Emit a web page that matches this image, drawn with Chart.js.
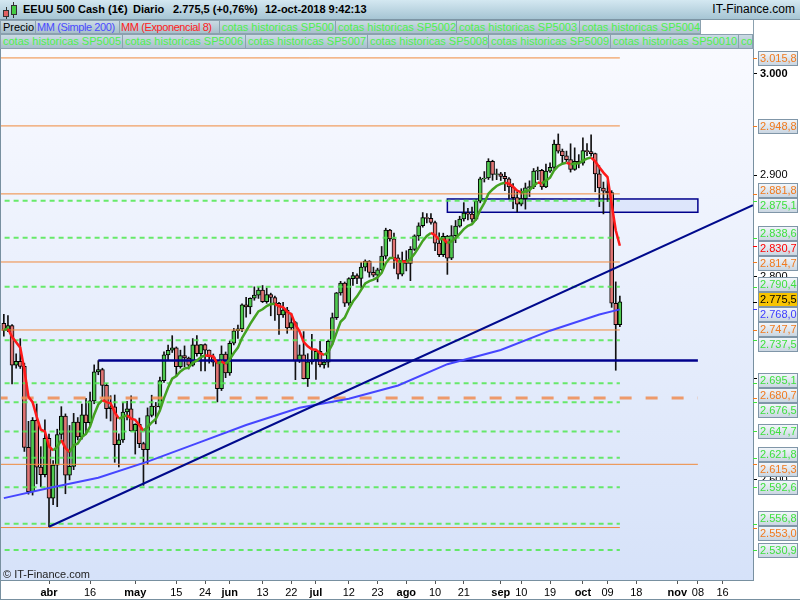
<!DOCTYPE html>
<html>
<head>
<meta charset="utf-8">
<title>EEUU 500 Cash (1€) - Diario</title>
<script src="https://cdn.jsdelivr.net/npm/chart.js@4.4.1/dist/chart.umd.min.js"></script>
<style>
  body { margin: 0; background: #fff; font-family: "Liberation Sans", Arial, sans-serif; }
  #wrap { position: relative; width: 800px; height: 600px; overflow: hidden; }
  #title { position: absolute; left: 0; top: 0; width: 800px; height: 19px;
           background: linear-gradient(#d4e8f1, #a6c5d4); border-bottom: 1px solid #7d95a4; }
  #title span { position: absolute; top: 3px; font-size: 11px; font-weight: bold; color: #000; white-space: nowrap; }
  #title .site { font-weight: normal; font-size: 12px; top: 2px; right: 5px; }
  .ic { position: absolute; border: 1px solid #333; box-sizing: border-box; }
  .wk { position: absolute; width: 1px; background: #333; }
  .leg { position: absolute; box-sizing: border-box; border: 1px solid #8ba1af;
         background: linear-gradient(#cbdbe4, #a8bfcb); font-size: 11px; line-height: 12px;
         padding-left: 2px; white-space: nowrap; overflow: hidden; color: #4ef04e; }
  .leg.mm { letter-spacing: -0.4px; padding-left: 1px; }
  .r1 { top: 20px; height: 14px; }
  .r2 { top: 34px; height: 15px; line-height: 13px; }
  #legsep { position: absolute; left: 753px; top: 20px; width: 1px; height: 29px; background: #8ba1af; }
  #chart { position: absolute; left: 0; top: 49px; }
  #copy { position: absolute; left: 3px; top: 568px; font-size: 11px; color: #222; }
  #frame { position: absolute; left: 0; top: 599px; width: 800px; height: 1px; background: #7890a0; }
</style>
</head>
<body>
<div id="wrap">
  <div id="title">
    <div class="wk" style="left:6px;top:7px;height:12px"></div>
    <div class="ic" style="left:3px;top:10px;width:6px;height:7px;background:#e06060"></div>
    <div class="wk" style="left:13px;top:2px;height:16px"></div>
    <div class="ic" style="left:11px;top:5px;width:6px;height:10px;background:#44cc44"></div>
    <span style="left:23px">EEUU 500 Cash (1€)</span>
    <span style="left:133px">Diario</span>
    <span style="left:173px">2.775,5 (+0,76%)</span>
    <span style="left:265px">12-oct-2018 9:42:13</span>
    <span class="site">IT-Finance.com</span>
  </div>

  <div class="leg r1" style="left:0;width:36px;color:#000">Precio</div>
  <div class="leg r1 mm" style="left:35px;width:85px;color:#4a4aff">MM (Simple 200)</div>
  <div class="leg r1 mm" style="left:119px;width:101px;color:#ff2020">MM (Exponencial 8)</div>
  <div class="leg r1" style="left:219px;width:117px">cotas historicas SP500</div>
  <div class="leg r1" style="left:335px;width:122px">cotas historicas SP5002</div>
  <div class="leg r1" style="left:456px;width:124px">cotas historicas SP5003</div>
  <div class="leg r1" style="left:579px;width:122px">cotas historicas SP5004</div>
  <div class="leg r2" style="left:0;width:123px">cotas historicas SP5005</div>
  <div class="leg r2" style="left:122px;width:124px">cotas historicas SP5006</div>
  <div class="leg r2" style="left:245px;width:123px">cotas historicas SP5007</div>
  <div class="leg r2" style="left:367px;width:122px">cotas historicas SP5008</div>
  <div class="leg r2" style="left:488px;width:123px">cotas historicas SP5009</div>
  <div class="leg r2" style="left:610px;width:129px">cotas historicas SP50010</div>
  <div class="leg r2" style="left:738px;width:15px">cotas historicas SP50011</div>
  <div id="legsep"></div>

  <canvas id="chart" width="800" height="551"></canvas>
  <div id="copy">© IT-Finance.com</div>
  <div id="frame"></div>
</div>

<script>
// sessions (mm-dd, 2018)
var dates = [
  '03-15','03-16','03-19','03-20','03-21','03-22','03-23','03-26','03-27','03-28','03-29',
  '04-02','04-03','04-04','04-05','04-06','04-09','04-10','04-11','04-12','04-13',
  '04-16','04-17','04-18','04-19','04-20','04-23','04-24','04-25','04-26','04-27','04-30',
  '05-01','05-02','05-03','05-04','05-07','05-08','05-09','05-10','05-11','05-14','05-15',
  '05-16','05-17','05-18','05-21','05-22','05-23','05-24','05-25','05-28','05-29','05-30','05-31',
  '06-01','06-04','06-05','06-06','06-07','06-08','06-11','06-12','06-13','06-14','06-15',
  '06-18','06-19','06-20','06-21','06-22','06-25','06-26','06-27','06-28','06-29',
  '07-02','07-03','07-04','07-05','07-06','07-09','07-10','07-11','07-12','07-13','07-16',
  '07-17','07-18','07-19','07-20','07-23','07-24','07-25','07-26','07-27','07-30','07-31',
  '08-01','08-02','08-03','08-06','08-07','08-08','08-09','08-10','08-13','08-14','08-15',
  '08-16','08-17','08-20','08-21','08-22','08-23','08-24','08-27','08-28','08-29','08-30','08-31',
  '09-03','09-04','09-05','09-06','09-07','09-10','09-11','09-12','09-13','09-14','09-17',
  '09-18','09-19','09-20','09-21','09-24','09-25','09-26','09-27','09-28',
  '10-01','10-02','10-03','10-04','10-05','10-08','10-09','10-10','10-11','10-12'
];

var open = [
  2754.3,2747.3,2752.0,2712.9,2716.9,2711.9,2632.0,2588.3,2658.6,2612.6,2605.0,
  2640.9,2581.9,2614.5,2644.7,2662.8,2604.5,2613.2,2656.9,2642.2,2664.0,
  2656.3,2677.8,2706.4,2708.6,2693.1,2670.1,2672.0,2634.6,2639.4,2666.9,
  2669.9,2648.1,2654.8,2635.7,2629.7,2663.4,2672.6,2671.9,2697.8,2723.1,
  2727.7,2730.1,2711.5,2722.5,2720.1,2713.0,2733.0,2724.4,2733.3,2727.8,
  2721.3,2716.0,2689.9,2724.0,2705.3,2734.6,2746.9,2748.8,2772.4,2770.4,
  2779.0,2782.0,2786.9,2775.6,2782.5,2779.7,2773.9,2762.6,2767.3,2749.8,
  2754.9,2717.1,2723.1,2699.6,2716.3,2718.4,2726.7,2713.2,2716.0,2736.6,
  2759.8,2784.2,2793.8,2774.0,2798.3,2801.3,2798.4,2809.6,2815.6,2804.5,
  2801.8,2807.0,2820.4,2846.1,2837.4,2818.8,2802.6,2816.3,2813.4,2827.2,
  2840.4,2850.4,2858.5,2857.7,2853.6,2833.3,2821.9,2840.0,2818.4,2840.7,
  2850.1,2857.1,2863.0,2861.8,2857.0,2874.7,2896.7,2897.5,2914.0,2901.1,
  2901.5,2899.0,2896.7,2888.6,2878.1,2871.7,2877.1,2887.9,2888.9,2904.2,
  2905.0,2888.8,2904.3,2908.0,2930.8,2924.0,2919.4,2915.6,2906.0,2914.0,
  2912.0,2924.6,2923.4,2921.5,2901.6,2887.6,2884.4,2883.0,2774.0,2753.0
];
var high = [
  2763.0,2761.9,2753.0,2724.2,2739.1,2715.0,2657.7,2661.4,2674.8,2632.7,2659.1,
  2645.0,2619.1,2649.9,2672.1,2665.0,2653.6,2665.5,2661.4,2674.7,2680.3,
  2686.5,2713.3,2717.5,2710.0,2695.0,2682.9,2683.6,2645.3,2676.5,2677.4,
  2682.9,2655.3,2660.9,2637.1,2670.9,2683.4,2676.3,2701.3,2726.1,2732.9,
  2742.1,2731.0,2727.8,2732.0,2721.0,2739.2,2742.2,2733.3,2734.0,2728.0,
  2724.0,2717.0,2732.0,2726.0,2736.9,2749.2,2752.6,2773.5,2779.9,2779.4,
  2790.2,2789.8,2791.5,2789.1,2784.0,2781.0,2775.0,2774.9,2770.0,2764.2,
  2756.0,2732.9,2746.1,2724.3,2743.3,2727.3,2736.6,2718.0,2737.8,2764.4,
  2784.7,2795.6,2795.0,2799.2,2804.5,2803.0,2814.2,2816.8,2816.0,2809.7,
  2808.6,2830.0,2848.0,2847.0,2843.2,2821.7,2824.5,2825.8,2829.9,2841.5,
  2853.3,2863.4,2862.4,2862.5,2855.0,2843.4,2843.1,2841.0,2850.5,2855.6,
  2859.8,2873.2,2867.5,2868.8,2876.2,2898.3,2903.8,2916.5,2915.0,2906.3,
  2903.0,2903.0,2898.0,2892.0,2883.8,2886.9,2892.5,2894.7,2906.8,2908.3,
  2906.0,2911.2,2912.4,2934.8,2940.9,2926.0,2924.0,2931.2,2927.2,2920.5,
  2937.1,2931.4,2939.9,2922.0,2909.6,2893.5,2894.8,2885.0,2795.1,2781.0
];
var low = [
  2741.5,2746.0,2694.6,2710.0,2709.8,2628.0,2585.9,2585.0,2596.1,2593.1,2603.0,
  2553.8,2575.5,2573.6,2640.0,2586.3,2600.0,2610.0,2639.3,2640.0,2645.1,
  2654.0,2675.0,2703.6,2681.9,2660.6,2658.0,2617.3,2612.7,2637.0,2659.0,
  2648.0,2625.4,2631.7,2594.6,2615.3,2662.0,2655.2,2670.0,2696.0,2717.5,
  2725.5,2701.9,2710.0,2711.4,2709.2,2712.0,2721.9,2707.4,2707.4,2715.0,
  2712.0,2676.8,2688.0,2700.7,2703.0,2733.0,2739.5,2746.0,2760.2,2763.6,
  2777.0,2778.8,2774.7,2774.0,2761.7,2757.1,2743.2,2760.0,2744.4,2748.0,
  2698.7,2715.6,2699.4,2692.0,2714.0,2699.0,2711.2,2710.0,2711.0,2733.5,
  2758.0,2782.0,2770.8,2772.0,2791.7,2793.4,2789.2,2805.9,2799.8,2800.0,
  2795.1,2806.0,2817.7,2835.3,2808.3,2798.1,2801.0,2805.9,2796.3,2826.0,
  2836.0,2849.0,2853.1,2852.0,2825.8,2819.9,2820.0,2802.5,2817.0,2833.7,
  2849.0,2855.0,2856.1,2854.0,2856.0,2873.0,2893.5,2896.0,2895.2,2895.8,
  2895.0,2885.1,2876.9,2867.3,2864.1,2870.0,2866.8,2879.2,2887.0,2895.8,
  2886.2,2888.0,2903.0,2906.0,2922.0,2912.6,2913.7,2903.3,2905.0,2907.5,
  2910.0,2919.4,2919.0,2883.9,2869.3,2862.1,2874.3,2770.0,2708.0,2751.0
];
var close = [
  2747.3,2752.0,2712.9,2716.9,2711.9,2632.0,2588.3,2658.6,2612.6,2605.0,2640.9,
  2581.9,2614.5,2644.7,2662.8,2604.5,2613.2,2656.9,2642.2,2664.0,2656.3,
  2677.8,2706.4,2708.6,2693.1,2670.1,2672.0,2634.6,2639.4,2666.9,2669.9,
  2648.1,2654.8,2635.7,2629.7,2663.4,2672.6,2671.9,2697.8,2723.1,2727.7,
  2730.1,2711.5,2722.5,2720.1,2713.0,2733.0,2724.4,2733.3,2727.8,2721.3,
  2716.0,2689.9,2724.0,2705.3,2734.6,2746.9,2748.8,2772.4,2770.4,2779.0,
  2782.0,2786.9,2775.6,2782.5,2779.7,2773.9,2762.6,2767.3,2749.8,2754.9,
  2717.1,2723.1,2699.6,2716.3,2718.4,2726.7,2713.2,2716.0,2736.6,2759.8,
  2784.2,2793.8,2774.0,2798.3,2801.3,2798.4,2809.6,2815.6,2804.5,2801.8,
  2807.0,2820.4,2846.1,2837.4,2818.8,2802.6,2816.3,2813.4,2827.2,2840.4,
  2850.4,2858.5,2857.7,2853.6,2833.3,2821.9,2840.0,2818.4,2840.7,2850.1,
  2857.1,2863.0,2861.8,2857.0,2874.7,2896.7,2897.5,2914.0,2901.1,2901.5,
  2899.0,2896.7,2888.6,2878.1,2871.7,2877.1,2887.9,2888.9,2904.2,2905.0,
  2888.8,2904.3,2908.0,2930.8,2924.0,2919.4,2915.6,2906.0,2914.0,2912.0,
  2924.6,2923.4,2921.5,2901.6,2887.6,2884.4,2883.0,2774.0,2753.0,2775.5
];

// MM (Exponencial 8)
var ema8 = [
  2748.0,2748.9,2740.9,2735.6,2730.3,2708.5,2681.8,2676.6,2662.4,2649.6,2647.7,
  2633.1,2629.0,2632.5,2639.2,2631.5,2627.4,2634.0,2635.8,2642.1,2645.3,
  2652.5,2664.5,2674.3,2678.5,2676.6,2675.5,2666.5,2660.4,2661.9,2663.7,
  2660.3,2659.1,2653.9,2648.6,2651.9,2656.5,2660.0,2668.3,2680.5,2691.0,
  2699.7,2702.3,2706.8,2709.8,2710.5,2715.5,2717.5,2721.0,2722.5,2722.3,
  2721.6,2714.6,2716.7,2714.2,2718.7,2725.0,2730.3,2739.7,2746.5,2753.7,
  2760.0,2766.0,2768.1,2771.3,2773.2,2773.4,2771.0,2770.2,2765.7,2763.3,
  2753.0,2746.4,2736.0,2731.6,2728.7,2728.3,2724.9,2723.1,2726.1,2733.6,
  2744.9,2755.8,2759.8,2768.4,2775.7,2780.8,2787.2,2793.5,2795.9,2797.3,
  2799.5,2804.1,2813.4,2818.7,2818.7,2815.1,2815.4,2815.0,2817.7,2822.7,
  2828.9,2835.5,2840.4,2843.3,2841.1,2836.8,2837.5,2833.3,2834.9,2838.3,
  2842.5,2847.1,2850.4,2851.9,2857.0,2865.8,2872.8,2882.0,2886.2,2889.6,
  2891.7,2892.8,2891.9,2888.8,2885.0,2883.2,2884.3,2885.4,2889.7,2893.1,
  2892.2,2894.9,2897.8,2905.1,2909.3,2911.6,2912.5,2911.1,2911.8,2911.9,
  2914.7,2916.6,2917.6,2914.0,2908.1,2902.8,2898.4,2872.0,2846.0,2830.7
];

// MM (Simple 200), read at a few sessions
var smaAt    = [0, 11, 23, 35, 47, 59, 72, 84, 96, 108, 121, 133, 145, 150];
var smaValue = [2582, 2592, 2602, 2618, 2636, 2654, 2671, 2680, 2693, 2714, 2728, 2747, 2763, 2768.0];

// cotas historicas
var orangeLevels = [3015.8, 2948.8, 2881.8, 2814.7, 2747.7, 2615.3, 2553.0];
var orangeDashed = [2680.7];
var greenLevels  = [2875.1, 2838.6, 2790.4, 2737.5, 2695.1, 2676.5, 2647.7, 2621.8, 2592.6, 2556.8, 2530.9];
var longLevels   = [2680.7, 2615.3];

// drawings (session index, price)
var supportLine = [[23, 2717.5], [169, 2717.5]];
var trendLine   = [[11, 2553.8], [182.4, 2870.6]];
var zone        = [[108, 2876.8], [169, 2863.7]];

// axes
var xTickAt   = [11, 21, 32, 42, 49, 55, 63, 70, 76, 84, 91, 98, 105, 112, 121, 126, 133, 141, 147, 154, 164, 169, 175];
var xTickText = ['abr','16','may','15','24','jun','13','22','jul','12','23','ago','10','21','sep','10','19','oct','09','18','nov','08','16'];
var yTicks    = [2600, 2700, 2800, 2900, 3000];

var last = close.length - 1;
var GREEN = '#4fc94f', PINK = '#e07474';

function fmt(v, d) {
  var p = v.toFixed(d).split('.');
  var s = p[0].replace(/\B(?=(\d{3})+(?!\d))/g, '.');
  return d ? s + ',' + p[1] : s;
}

function levelLine(v, color, width, dash) {
  var end = longLevels.indexOf(v) >= 0 ? supportLine[1][0] : last;
  return {
    type: 'line', data: [{x: -2, y: v}, {x: end, y: v}],
    borderColor: color, borderWidth: width, borderDash: dash,
    pointRadius: 0, order: 4
  };
}

var datasets = [];
datasets.push({
  type: 'bar', label: 'wick',
  data: dates.map(function (d, i) { return {x: i, y: [low[i], high[i]]}; }),
  backgroundColor: '#111', barThickness: 1, grouped: false, order: 10
});
datasets.push({
  type: 'bar', label: 'Precio',
  data: dates.map(function (d, i) { return {x: i, y: [open[i], close[i]]}; }),
  backgroundColor: function (c) { return close[c.dataIndex] >= open[c.dataIndex] ? GREEN : PINK; },
  borderColor: '#000', borderWidth: 1, borderSkipped: false,
  barThickness: 4, grouped: false, order: 9
});
orangeLevels.forEach(function (v) { datasets.push(levelLine(v, '#f08a3c', 1, [])); });
orangeDashed.forEach(function (v) { datasets.push(levelLine(v, 'rgba(240,140,80,0.85)', 3, [12, 14])); });
greenLevels.forEach(function (v) { datasets.push(levelLine(v, 'rgba(80,232,80,0.85)', 2, [5, 4])); });
datasets.push({
  type: 'line', data: supportLine.map(function (p) { return {x: p[0], y: p[1]}; }),
  borderColor: '#00008c', borderWidth: 2.5, pointRadius: 0, order: 3
});
datasets.push({
  type: 'line', data: trendLine.map(function (p) { return {x: p[0], y: p[1]}; }),
  borderColor: '#000a8c', borderWidth: 2, pointRadius: 0, order: 2
});
datasets.push({
  type: 'line', label: 'MM (Simple 200)',
  data: smaAt.map(function (i, k) { return {x: i, y: smaValue[k]}; }),
  borderColor: '#4646ff', borderWidth: 2, pointRadius: 0, order: 2
});
datasets.push({
  type: 'line', label: 'MM (Exponencial 8)',
  data: ema8.map(function (v, i) { return {x: i, y: v}; }),
  borderColor: '#ff1a1a', borderWidth: 2.5, pointRadius: 0, order: 1,
  segment: { borderColor: function (c) { return c.p1.parsed.y >= c.p0.parsed.y ? '#44a222' : '#ff1a1a'; } }
});

var backdrop = {
  id: 'backdrop',
  beforeDraw: function (chart) {
    var ctx = chart.ctx, a = chart.chartArea;
    ctx.save();
    ctx.fillStyle = '#fff';
    ctx.fillRect(0, 0, chart.width, chart.height);
    var g = ctx.createLinearGradient(0, a.top, 0, a.bottom);
    g.addColorStop(0, '#f9faff');
    g.addColorStop(1, '#d6e2f9');
    ctx.fillStyle = g;
    ctx.fillRect(0, a.top, a.right, a.bottom - a.top);
    ctx.strokeStyle = '#7890a0';
    ctx.beginPath(); ctx.moveTo(0.5, a.top); ctx.lineTo(0.5, chart.height); ctx.stroke();
    ctx.restore();
  },
  beforeDatasetsDraw: function (chart) {
    var ctx = chart.ctx, xs = chart.scales.x, ys = chart.scales.y;
    var x0 = xs.getPixelForValue(zone[0][0]), x1 = xs.getPixelForValue(zone[1][0]);
    var y0 = ys.getPixelForValue(zone[0][1]), y1 = ys.getPixelForValue(zone[1][1]);
    ctx.save();
    ctx.fillStyle = 'rgba(214,224,250,0.7)';
    ctx.fillRect(x0, y0, x1 - x0, y1 - y0);
    ctx.strokeStyle = '#00008c';
    ctx.lineWidth = 1.5;
    ctx.strokeRect(x0, y0, x1 - x0, y1 - y0);
    ctx.restore();
  }
};

var priceTags = {
  id: 'priceTags',
  afterDraw: function (chart) {
    var ctx = chart.ctx, ys = chart.scales.y, a = chart.chartArea;
    var tags = [];
    orangeLevels.concat(orangeDashed).forEach(function (v) { tags.push({v: v, c: '#f07a1e'}); });
    greenLevels.forEach(function (v) { tags.push({v: v, c: '#3ee03e'}); });
    tags.push({v: ema8[last], c: '#ff0000'});
    tags.push({v: smaValue[smaValue.length - 1], c: '#3c3cff'});
    tags.push({v: close[last], c: '#000', fill: '#f8c400'});
    tags.forEach(function (t) { t.y = ys.getPixelForValue(t.v); });
    tags.sort(function (p, q) { return p.y - q.y; });

    var pitch = 15;
    var groups = tags.map(function (t) { return {items: [t], c: t.y}; });
    var merged = true;
    while (merged) {
      merged = false;
      for (var k = 0; k < groups.length - 1; k++) {
        var g1 = groups[k], g2 = groups[k + 1];
        if (g1.c + g1.items.length * pitch / 2 > g2.c - g2.items.length * pitch / 2) {
          var all = g1.items.concat(g2.items);
          var m = all.reduce(function (s, t) { return s + t.y; }, 0) / all.length;
          groups.splice(k, 2, {items: all, c: m});
          merged = true;
          break;
        }
      }
    }
    groups.forEach(function (g) {
      var top = g.c - g.items.length * pitch / 2;
      g.items.forEach(function (t, j) { t.py = top + j * pitch + pitch / 2; });
    });

    ctx.save();
    tags.forEach(function (t) {
      ctx.strokeStyle = t.c;
      ctx.lineWidth = 1;
      ctx.beginPath();
      ctx.moveTo(a.right, Math.round(t.y) + 0.5);
      ctx.lineTo(a.right + 4, Math.round(t.y) + 0.5);
      ctx.stroke();
    });
    ctx.font = '11px "Liberation Sans", Arial, sans-serif';
    ctx.textBaseline = 'middle';
    tags.forEach(function (t) {
      var bx = a.right + 5.5, by = Math.round(t.py - 7) + 0.5, bw = 39, bh = 14;
      if (t.fill) {
        ctx.fillStyle = t.fill;
      } else {
        var gr = ctx.createLinearGradient(0, by, 0, by + bh);
        gr.addColorStop(0, '#f3f7fb');
        gr.addColorStop(1, '#c9d5e1');
        ctx.fillStyle = gr;
      }
      ctx.fillRect(bx, by, bw, bh);
      ctx.strokeStyle = '#8096a8';
      ctx.strokeRect(bx, by, bw, bh);
      ctx.fillStyle = t.c;
      ctx.fillText(fmt(t.v, 1), bx + 1.5, by + bh / 2 + 0.5);
    });
    ctx.restore();
  }
};

Chart.defaults.font.family = '"Liberation Sans", Arial, sans-serif';
Chart.defaults.font.size = 11;

new Chart(document.getElementById('chart'), {
  type: 'bar',
  data: { datasets: datasets },
  options: {
    responsive: false,
    devicePixelRatio: 1,
    animation: false,
    layout: { padding: { left: 1, right: 0, top: 0, bottom: 0 } },
    plugins: { legend: { display: false }, tooltip: { enabled: false } },
    scales: {
      x: {
        type: 'linear', min: -0.69, max: 182.42, offset: false,
        afterBuildTicks: function (s) { s.ticks = xTickAt.map(function (v) { return {value: v}; }); },
        afterFit: function (s) { s.height = 20; s.paddingLeft = 0; s.paddingRight = 0; },
        grid: { drawOnChartArea: false, tickLength: 4, color: '#555', offset: false },
        border: { color: '#7890a0' },
        ticks: {
          autoSkip: false, maxRotation: 0, padding: 2, color: '#000',
          font: function (c) { return {size: 11, weight: /^[a-z]/.test(xTickText[c.index] || '') ? 'bold' : 'normal'}; },
          callback: function (v, i) { return xTickText[i]; }
        }
      },
      y: {
        position: 'right', min: 2501.3, max: 3024.6,
        afterBuildTicks: function (s) { s.ticks = yTicks.map(function (v) { return {value: v}; }); },
        afterFit: function (s) { s.width = 47; s.paddingTop = 0; s.paddingBottom = 0; },
        grid: { drawOnChartArea: false, tickLength: 4, color: '#000' },
        border: { color: '#7890a0' },
        ticks: {
          padding: 3, color: '#000',
          font: function (c) { return {size: 11, weight: c.tick && c.tick.value === 3000 ? 'bold' : 'normal'}; },
          callback: function (v) { return fmt(v, 0); }
        }
      }
    }
  },
  plugins: [backdrop, priceTags]
});
</script>
</body>
</html>
